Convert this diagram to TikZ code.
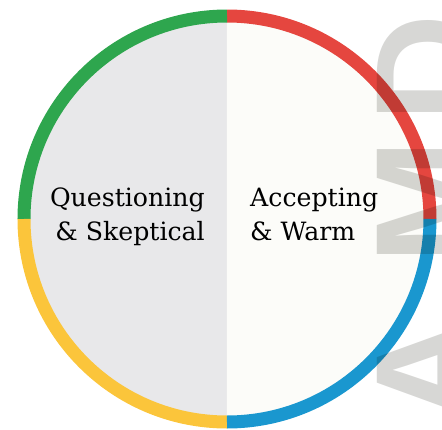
\documentclass[tikz,border=0pt]{standalone}
\usepackage{fontspec}
\setmainfont{DejaVu Serif}
\newfontfamily\ghostfont{Liberation Sans}
\usetikzlibrary{positioning}

\definecolor{ringgreen}{HTML}{2EA64E}
\definecolor{ringred}{HTML}{E5463F}
\definecolor{ringblue}{HTML}{1A97CF}
\definecolor{ringyellow}{HTML}{FBC53B}
\definecolor{leftfill}{HTML}{E8E8EA}
\definecolor{rightfill}{HTML}{FCFCF9}
\definecolor{ghostgray}{HTML}{D7D7D5}

\tikzset{
  ring/.style={line width=13pt},
  label/.style={font=\fontsize{25.2}{34}\selectfont, inner sep=0pt},
  ghost/.style={font=\ghostfont\bfseries\fontsize{150}{150}\selectfont,
    text=ghostgray, inner sep=0pt, rotate=90, anchor=base}
}

\begin{document}
\begin{tikzpicture}[x=1pt,y=1pt]

        % Rahmen
        \useasboundingbox (-227,-210) rectangle (215,219);
        \clip (-227,-210) rectangle (215,219);

        % zwei Hälften
        \fill[leftfill] (0,203) arc[start angle=90, end angle=270, radius=203] -- cycle;
        \fill[rightfill] (0,-203) arc[start angle=-90, end angle=90, radius=203] -- cycle;

        % farbiger Ring
        \foreach \a/\c in {0/ringred, 90/ringgreen, 180/ringyellow, 270/ringblue}
        {
          \draw[ring, \c] (\a:203) arc[start angle=\a, end angle=\a+90, radius=203];
        }

        % Beschriftung
        \node[label, align=right, anchor=base east] (skeptical) at (-22,-21) {Questioning\\\& Skeptical};
        \node[label, align=left, anchor=base west] (warm) at (23,-21) {Accepting\\\& Warm};

        % durchscheinende Buchstaben am Rand
        \begin{scope}[blend mode=multiply]
          \node[ghost] (ghosta) at (253,-151) {A};
          \node[ghost] (ghostm) at (253,17) {M};
          \node[ghost] (ghostd) at (253,151) {D};
        \end{scope}

    \end{tikzpicture}
\end{document}
